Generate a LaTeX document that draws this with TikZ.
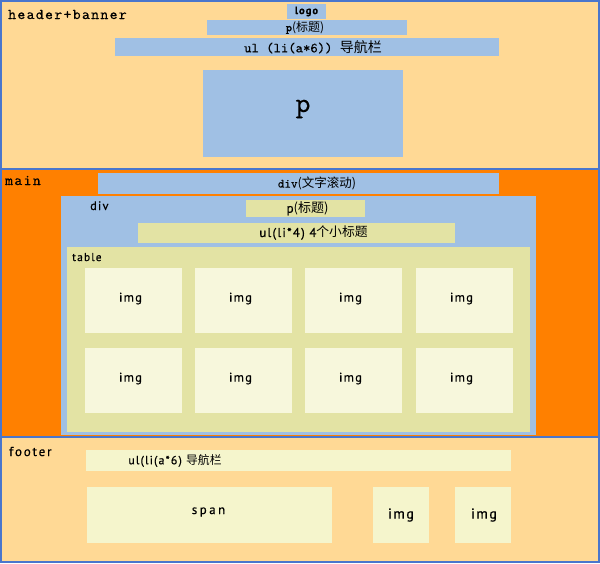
\documentclass[tikz,border=0pt]{standalone}
\usepackage{fontspec}
\newfontfamily\cjk{Noto Sans CJK SC}
\newfontfamily\sanslab[LetterSpace=10, FakeBold=0.5]{PT Sans}
\newfontfamily\monolab[FakeBold=0.3]{lmmono10-regular.otf}
\newfontfamily\monowide[LetterSpace=9, FakeBold=0.3]{lmmono10-regular.otf}
\newcommand\zh[1]{{\cjk #1}}
\definecolor{bgpale}{HTML}{FFD995}
\definecolor{frame}{HTML}{4A76CC}
\definecolor{mainor}{HTML}{FF8000}
\definecolor{lblue}{HTML}{A0C0E4}
\definecolor{khaki}{HTML}{E3E3A4}
\definecolor{imgc}{HTML}{F7F7DC}
\definecolor{ftc}{HTML}{F5F5CC}
\newcommand\rbox[6]{\node[rbx, fill=#6, minimum width=#4pt, minimum height=#5pt] (#1) at (#2,#3) {};}
\begin{document}
\begin{tikzpicture}[x=1pt,y=-1pt,
  rbx/.style={draw=none, inner sep=0pt, outer sep=0pt, anchor=north west},
  mlab/.style={inner sep=0pt, text=black},
  slab/.style={inner sep=0pt, text=black}]
\useasboundingbox (0,0) rectangle (600,563);
% sections
\rbox{header}{0}{0}{600}{168}{bgpale}
\rbox{main}{0}{170}{600}{266}{mainor}
\rbox{footer}{0}{438}{600}{125}{bgpale}
\rbox{sep1}{0}{168}{600}{2}{frame}
\rbox{sep2}{0}{436}{600}{2}{frame}
\draw[frame, line width=2pt] (1,1) rectangle (599,562);
% header
\node[mlab, anchor=base west, font=\monowide\fontsize{15}{17}\selectfont] (thb) at (8,19) {header+banner};
\rbox{logo}{287}{4}{39}{15}{lblue}
\node[slab, font=\sanslab\fontsize{10.5}{12}\selectfont\bfseries] (tlogo) at (306.5,11.5) {logo};
\rbox{hp}{207}{20}{200}{15}{lblue}
\node[mlab, font=\monolab\fontsize{12}{14}\selectfont] (thp) at (305,27.5) {p\zh{(标题)}};
\rbox{hul}{115}{38}{384}{18}{lblue}
\node[mlab, font=\monolab\fontsize{14}{16}\selectfont] (thul) at (313,47) {ul (li(a*6)) \zh{导航栏}};
\rbox{hbig}{203}{70}{200}{87}{lblue}
\node[mlab, font=\monolab\fontsize{28}{30}\selectfont] (thbig) at (303,109) {p};
% main
\node[mlab, anchor=base west, font=\monowide\fontsize{15}{17}\selectfont] (tmain) at (5,185) {main};
\rbox{scroll}{98}{173}{401}{21}{lblue}
\node[mlab, font=\monolab\fontsize{12.5}{14}\selectfont] (tscroll) at (317,183.5) {div\zh{(文字滚动)}};
\rbox{div}{61}{196}{475}{239}{lblue}
\node[slab, anchor=base west, font=\sanslab\fontsize{12.3}{14}\selectfont] (tdiv) at (90,210) {div};
\rbox{dp}{246}{200}{119}{17}{khaki}
\node[slab, font=\sanslab\fontsize{13}{15}\selectfont] (tdp) at (307.5,208.5) {p\zh{(标题)}};
\rbox{dul}{138}{223}{317}{20}{khaki}
\node[slab, font=\sanslab\fontsize{12.8}{15}\selectfont] (tdul) at (313.5,233) {ul(li*4) 4\zh{个小标题}};
\rbox{table}{67}{247}{463}{185}{khaki}
\node[slab, anchor=base west, font=\sanslab\fontsize{11.4}{13}\selectfont] (ttable) at (72,261) {table};
\foreach \c/\x in {1/85,2/195,3/305,4/416}{
  \foreach \r/\y in {1/268,2/348}{
    \rbox{img\c\r}{\x}{\y}{97}{65}{imgc}
    \node[slab, font=\sanslab\fontsize{12.6}{15}\selectfont] (timg\c\r) at ([xshift=-3pt,yshift=2pt]img\c\r.center) {img};
  }
}
% footer
\node[slab, anchor=base west, font=\sanslab\fontsize{13}{15}\selectfont\addfontfeatures{LetterSpace=14}] (tfooter) at (9,456) {footer};
\rbox{ful}{86}{450}{425}{21}{ftc}
\node[slab, font=\sanslab\fontsize{11.8}{14}\selectfont] (tful) at (175,460.5) {ul(li(a*6) \zh{导航栏}};
\rbox{span}{87}{487}{245}{56}{ftc}
\node[slab, font=\sanslab\fontsize{12.8}{15}\selectfont\addfontfeatures{LetterSpace=20}] (tspan) at (208.5,512) {span};
\rbox{fimg1}{373}{487}{56}{56}{ftc}
\node[slab, font=\sanslab\fontsize{14.3}{16}\selectfont] (tfimg1) at (401,515) {img};
\rbox{fimg2}{455}{487}{56}{56}{ftc}
\node[slab, font=\sanslab\fontsize{14.3}{16}\selectfont] (tfimg2) at (484,515) {img};
\end{tikzpicture}
\end{document}
